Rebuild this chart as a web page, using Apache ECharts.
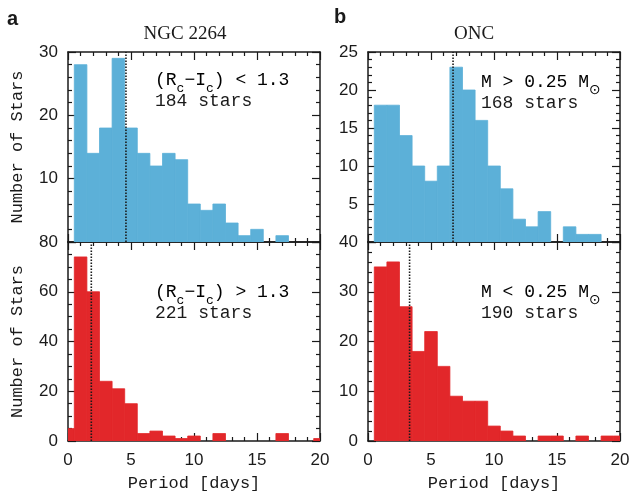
<!DOCTYPE html>
<html>
<head>
<meta charset="utf-8">
<script src="https://cdn.jsdelivr.net/npm/echarts@6/dist/echarts.min.js"></script>
<style>
  html, body { margin: 0; padding: 0; background: #fff; }
  #chart { width: 633px; height: 493px; }
</style>
</head>
<body>
<div id="chart"></div>
<script>
// Rotation-period histograms, 1-day bins centred on whole days (0..20 d)
const periodTicks = [0, 5, 10, 15, 20];
const binCentres = [0, 1, 2, 3, 4, 5, 6, 7, 8, 9, 10, 11, 12, 13, 14, 15, 16, 17, 18, 19, 20];

// NGC 2264, split by colour
const ngcBlue = [0, 28, 14, 18, 29, 18, 14, 12, 14, 13, 6, 5, 6, 3, 1, 2, 0, 1, 0, 0, 0];
const ngcRed  = [5, 74, 60, 24, 21, 15, 3, 4, 2, 1, 2, 0, 3, 0, 0, 0, 0, 3, 0, 0, 1];
// ONC, split by mass
const oncBlue = [0, 18, 18, 14, 10, 8, 10, 23, 20, 16, 10, 7, 3, 2, 4, 0, 2, 1, 1, 0, 0];
const oncRed  = [0, 35, 36, 27, 18, 22, 15, 9, 8, 8, 3, 2, 1, 0, 1, 1, 0, 1, 0, 1, 1];

// median periods (dotted lines)
const medians = [4.6, 1.85, 6.75, 3.3];

// y-axis ranges per panel: [max, major step, minor divisions]
const yMax = [30, 80, 25, 40];
const yStep = [10, 20, 5, 10];
const yMinor = [5, 4, 5, 5];

const BLUE = '#5cb0d8';
const RED = '#e2272a';
const INK = '#1a1a1a';
const MONO = "'Liberation Mono', 'DejaVu Sans Mono', monospace";
const SANS = "'Liberation Sans', Arial, sans-serif";
const SERIF = "'Liberation Serif', 'Times New Roman', serif";

const panels = [
  { counts: ngcBlue, color: BLUE, left: 68,  top: 52,  height: 190, isTop: true,  yName: true },
  { counts: ngcRed,  color: RED,  left: 68,  top: 242, height: 200, isTop: false, yName: true },
  { counts: oncBlue, color: BLUE, left: 368, top: 52,  height: 190, isTop: true,  yName: false },
  { counts: oncRed,  color: RED,  left: 368, top: 242, height: 200, isTop: false, yName: false }
];

const grids = [], xAxes = [], yAxes = [], series = [];

const lineStyle = { color: INK, width: 1.5 };
const tickStyle = { color: INK, width: 1.2 };

panels.forEach((p, g) => {
  grids.push({ left: p.left, top: p.top, width: 252, height: p.height });

  const xCommon = {
    type: 'value', gridIndex: g, min: periodTicks[0], max: periodTicks[periodTicks.length - 1],
    interval: periodTicks[1] - periodTicks[0],
    axisLine: { show: true, onZero: false, lineStyle },
    axisTick: { show: true, inside: true, length: 8, lineStyle: tickStyle },
    minorTick: { show: true, splitNumber: 5, length: 4, lineStyle: tickStyle },
    splitLine: { show: false }
  };
  xAxes.push(Object.assign({}, xCommon, {
    position: 'bottom',
    axisLabel: { show: !p.isTop, margin: 11, fontFamily: SANS, fontSize: 17, color: INK },
    name: p.isTop ? '' : 'Period [days]',
    nameLocation: 'middle', nameGap: 34,
    nameTextStyle: { fontFamily: MONO, fontSize: 17, color: INK }
  }));
  xAxes.push(Object.assign({}, xCommon, { position: 'top', axisLabel: { show: false } }));

  const yCommon = {
    type: 'value', gridIndex: g, min: 0, max: yMax[g], interval: yStep[g],
    axisLine: { show: true, onZero: false, lineStyle },
    axisTick: { show: true, inside: true, length: 8, lineStyle: tickStyle },
    minorTick: { show: true, splitNumber: yMinor[g], length: 4, lineStyle: tickStyle },
    splitLine: { show: false }
  };
  yAxes.push(Object.assign({}, yCommon, {
    position: 'left',
    axisLabel: { show: true, margin: 10, fontFamily: SANS, fontSize: 17, color: INK, showMinLabel: !p.isTop },
    name: p.yName ? 'Number of Stars' : '',
    nameLocation: 'middle', nameGap: 42,
    nameTextStyle: { fontFamily: MONO, fontSize: 17, color: INK }
  }));
  yAxes.push(Object.assign({}, yCommon, { position: 'right', axisLabel: { show: false } }));

  const xMin = periodTicks[0], xMaxV = periodTicks[periodTicks.length - 1];
  series.push({
    type: 'custom',
    xAxisIndex: 2 * g, yAxisIndex: 2 * g,
    data: binCentres.map((c, i) => [c, p.counts[i]]),
    clip: true,
    renderItem: function (params, api) {
      const c = api.value(0), n = api.value(1);
      if (!n) return null;
      const lo = Math.max(xMin, c - 0.5), hi = Math.min(xMaxV, c + 0.5);
      const a = api.coord([lo, n]);
      const b = api.coord([hi, 0]);
      return {
        type: 'rect',
        shape: { x: a[0], y: a[1], width: b[0] - a[0], height: b[1] - a[1] },
        style: { fill: p.color, stroke: p.color, lineWidth: 0.8 }
      };
    },
    z: 1
  });

  series.push({
    type: 'line',
    xAxisIndex: 2 * g, yAxisIndex: 2 * g,
    data: [[medians[g], 0], [medians[g], yMax[g]]],
    symbol: 'none',
    lineStyle: { color: INK, width: 1.6, type: [1.5, 1.5] },
    silent: true,
    z: 3
  });
});

// main text sits in the middle of a tall line box; subscripts hang at its bottom
const subRich = {
  n: { fontFamily: MONO, fontSize: 18, color: INK, lineHeight: 30, verticalAlign: 'middle' },
  s: { fontFamily: MONO, fontSize: 13, color: INK, lineHeight: 16, verticalAlign: 'bottom' },
  o: { fontFamily: "'DejaVu Sans', sans-serif", fontSize: 14, color: INK, lineHeight: 17, verticalAlign: 'bottom' }
};

function note(x, y, line1, line2) {
  return [
    { type: 'text', x: x, y: y, z: 10,
      style: { text: line1, rich: subRich, verticalAlign: 'middle' } },
    { type: 'text', x: x, y: y + 21, z: 10,
      style: { text: line2, font: '18px ' + MONO, fill: INK, verticalAlign: 'middle' } }
  ];
}

const graphics = [
  { type: 'text', x: 7, y: 19, style: { text: 'a', font: 'bold 20px ' + SANS, fill: INK, verticalAlign: 'middle' } },
  { type: 'text', x: 334, y: 17, style: { text: 'b', font: 'bold 20px ' + SANS, fill: INK, verticalAlign: 'middle' } },
  { type: 'text', x: 185, y: 34, style: { text: 'NGC 2264', font: '19px ' + SERIF, fill: INK, align: 'center', verticalAlign: 'middle' } },
  { type: 'text', x: 474, y: 34, style: { text: 'ONC', font: '19px ' + SERIF, fill: INK, align: 'center', verticalAlign: 'middle' } }
].concat(
  note(155, 80, '{n|(R}{s|c}{n|−I}{s|c}{n|) < 1.3}', '184 stars'),
  note(155, 292, '{n|(R}{s|c}{n|−I}{s|c}{n|) > 1.3}', '221 stars'),
  note(481, 82, '{n|M > 0.25 M}{o|⊙}', '168 stars'),
  note(481, 292, '{n|M < 0.25 M}{o|⊙}', '190 stars')
);

const chart = echarts.init(document.getElementById('chart'), null, { renderer: 'canvas' });
chart.setOption({
  animation: false,
  backgroundColor: '#fff',
  grid: grids,
  xAxis: xAxes,
  yAxis: yAxes,
  series: series,
  graphic: graphics
});
</script>
</body>
</html>
